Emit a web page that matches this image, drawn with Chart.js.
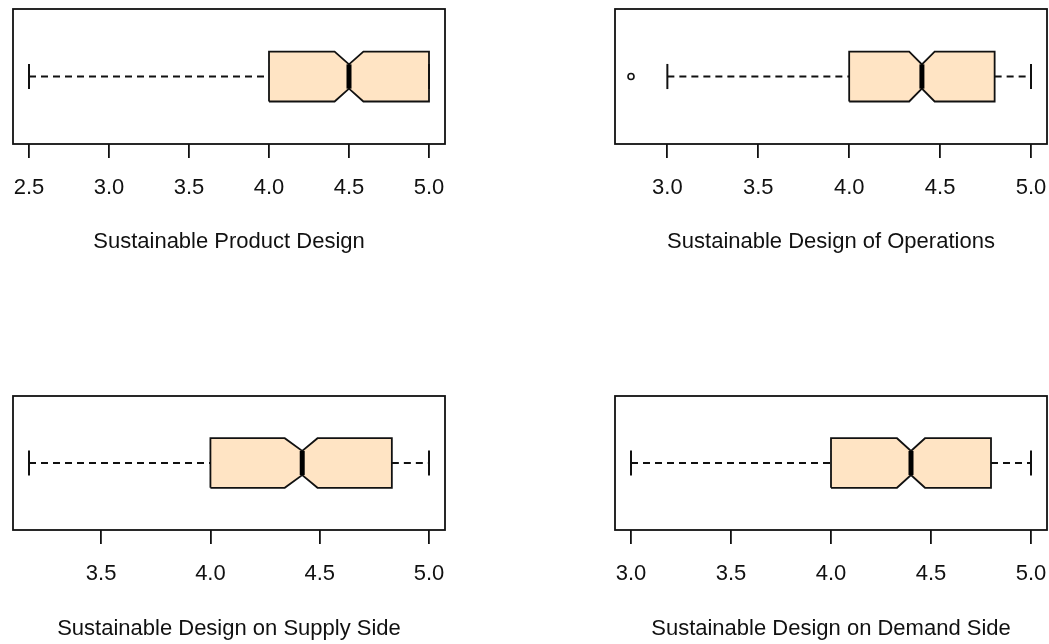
<!DOCTYPE html>
<html>
<head>
<meta charset="utf-8">
<script src="https://cdn.jsdelivr.net/npm/chart.js@4.4.1/dist/chart.umd.min.js"></script>
<style>
    body { margin: 0; background: #ffffff; width: 1049px; height: 644px; position: relative; overflow: hidden; }
    canvas { position: absolute; }
</style>
</head>
<body>
<canvas id="painel0" width="544" height="322" style="left:-20px;top:0"></canvas>
<canvas id="painel1" width="560" height="322" style="left:525px;top:0"></canvas>
<canvas id="painel2" width="544" height="322" style="left:-20px;top:322px"></canvas>
<canvas id="painel3" width="560" height="322" style="left:525px;top:322px"></canvas>
<script>
// dados (um valor por painel)
const titulos = ['Sustainable Product Design', 'Sustainable Design of Operations', 'Sustainable Design on Supply Side', 'Sustainable Design on Demand Side'];
const minimos = [2.5, 3.0, 3.17, 3.0];
const quartil1 = [4.0, 4.0, 4.0, 4.0];
const medianas = [4.5, 4.4, 4.42, 4.4];
const quartil3 = [5.0, 4.8, 4.83, 4.8];
const maximos = [5.0, 5.0, 5.0, 5.0];
const entalheInf = [4.41, 4.33, 4.34, 4.33];
const entalheSup = [4.59, 4.47, 4.49, 4.47];
const outliers = [[], [2.8], [], []];
const marcas = [
    [2.5, 3.0, 3.5, 4.0, 4.5, 5.0],
    [3.0, 3.5, 4.0, 4.5, 5.0],
    [3.5, 4.0, 4.5, 5.0],
    [3.0, 3.5, 4.0, 4.5, 5.0]
];

// posicao de cada painel dentro do seu canvas
const layouts = [
    { padL: 33, padR: 79, padT: 9, alturaEixo: 178, padTick: 17, padTitulo: 67 },
    { padL: 90, padR: 38, padT: 9, alturaEixo: 178, padTick: 17, padTitulo: 67 },
    { padL: 33, padR: 79, padT: 74, alturaEixo: 114, padTick: 17, padTitulo: 2 },
    { padL: 90, padR: 38, padT: 74, alturaEixo: 114, padTick: 17, padTitulo: 2 }
];

const CAIXA = 0.185;   // meia altura da caixa
const ENTALHE = 0.09;  // meia altura na mediana
const HASTE = 0.093;   // meia altura das barras das pontas
const FONTE = "'Liberation Sans', Arial, sans-serif";

const moldura = {
    id: 'moldura',
    afterDraw(chart) {
        let ctx = chart.ctx;
        let a = chart.chartArea;
        ctx.save();
        ctx.strokeStyle = '#111';
        ctx.lineWidth = 1.8;
        ctx.strokeRect(a.left, a.top, a.right - a.left, a.bottom - a.top);
        ctx.restore();
    }
};

function linha(pontos, extra) {
    return Object.assign({
        data: pontos,
        showLine: true,
        pointRadius: 0,
        borderColor: '#111',
        borderWidth: 1.8,
        fill: false
    }, extra || {});
}

function plotarPainel(i) {
    let lo = Math.min(minimos[i], ...outliers[i]);
    let hi = Math.max(maximos[i], ...outliers[i]);
    let margem = (hi - lo) * 0.04;
    let lay = layouts[i];

    let caixa = [
        { x: quartil1[i], y: 1 - CAIXA },
        { x: entalheInf[i], y: 1 - CAIXA },
        { x: medianas[i], y: 1 - ENTALHE },
        { x: entalheSup[i], y: 1 - CAIXA },
        { x: quartil3[i], y: 1 - CAIXA },
        { x: quartil3[i], y: 1 + CAIXA },
        { x: entalheSup[i], y: 1 + CAIXA },
        { x: medianas[i], y: 1 + ENTALHE },
        { x: entalheInf[i], y: 1 + CAIXA },
        { x: quartil1[i], y: 1 + CAIXA },
        { x: quartil1[i], y: 1 - CAIXA }
    ];

    let datasets = [
        {
            data: outliers[i].map(v => ({ x: v, y: 1 })),
            showLine: false,
            pointStyle: 'circle',
            pointRadius: 3,
            borderColor: '#111',
            borderWidth: 1.6,
            backgroundColor: 'rgba(255,255,255,0)'
        },
        linha([{ x: medianas[i], y: 1 - ENTALHE }, { x: medianas[i], y: 1 + ENTALHE }], { borderWidth: 5, borderColor: '#000' }),
        linha([{ x: minimos[i], y: 1 - HASTE }, { x: minimos[i], y: 1 + HASTE }], { borderWidth: 2 }),
        linha([{ x: maximos[i], y: 1 - HASTE }, { x: maximos[i], y: 1 + HASTE }], { borderWidth: 2 }),
        linha([{ x: minimos[i], y: 1 }, { x: quartil1[i], y: 1 }], { borderDash: [7, 5], borderWidth: 2 }),
        linha([{ x: quartil3[i], y: 1 }, { x: maximos[i], y: 1 }], { borderDash: [7, 5], borderWidth: 2 }),
        linha(caixa, { fill: 'shape', backgroundColor: '#ffe4c4', borderJoinStyle: 'miter' })
    ];

    let config = {
        type: 'scatter',
        data: { datasets: datasets },
        options: {
            responsive: false,
            animation: false,
            layout: { padding: { left: lay.padL, right: lay.padR, top: lay.padT, bottom: 0 } },
            plugins: {
                legend: { display: false },
                tooltip: { enabled: false }
            },
            scales: {
                x: {
                    type: 'linear',
                    min: lo - margem,
                    max: hi + margem,
                    afterBuildTicks: function (eixo) {
                        eixo.ticks = marcas[i].map(v => ({ value: v }));
                    },
                    afterFit: function (eixo) {
                        eixo.height = lay.alturaEixo;
                    },
                    border: { display: false },
                    grid: {
                        drawOnChartArea: false,
                        drawTicks: true,
                        tickLength: 14,
                        color: '#111',
                        lineWidth: 1.8
                    },
                    ticks: {
                        color: '#111',
                        padding: lay.padTick,
                        maxRotation: 0,
                        autoSkip: false,
                        font: { family: FONTE, size: 22 },
                        callback: v => v.toFixed(1)
                    },
                    title: {
                        display: true,
                        text: titulos[i],
                        color: '#111',
                        font: { family: FONTE, size: 22 },
                        padding: { top: 0, bottom: lay.padTitulo }
                    }
                },
                y: {
                    type: 'linear',
                    min: 0.5,
                    max: 1.5,
                    display: false
                }
            }
        },
        plugins: [moldura]
    };

    new Chart(document.getElementById(`painel${i}`), config);
}

for (let i = 0; i < titulos.length; i++) {
    plotarPainel(i);
}
</script>
</body>
</html>
